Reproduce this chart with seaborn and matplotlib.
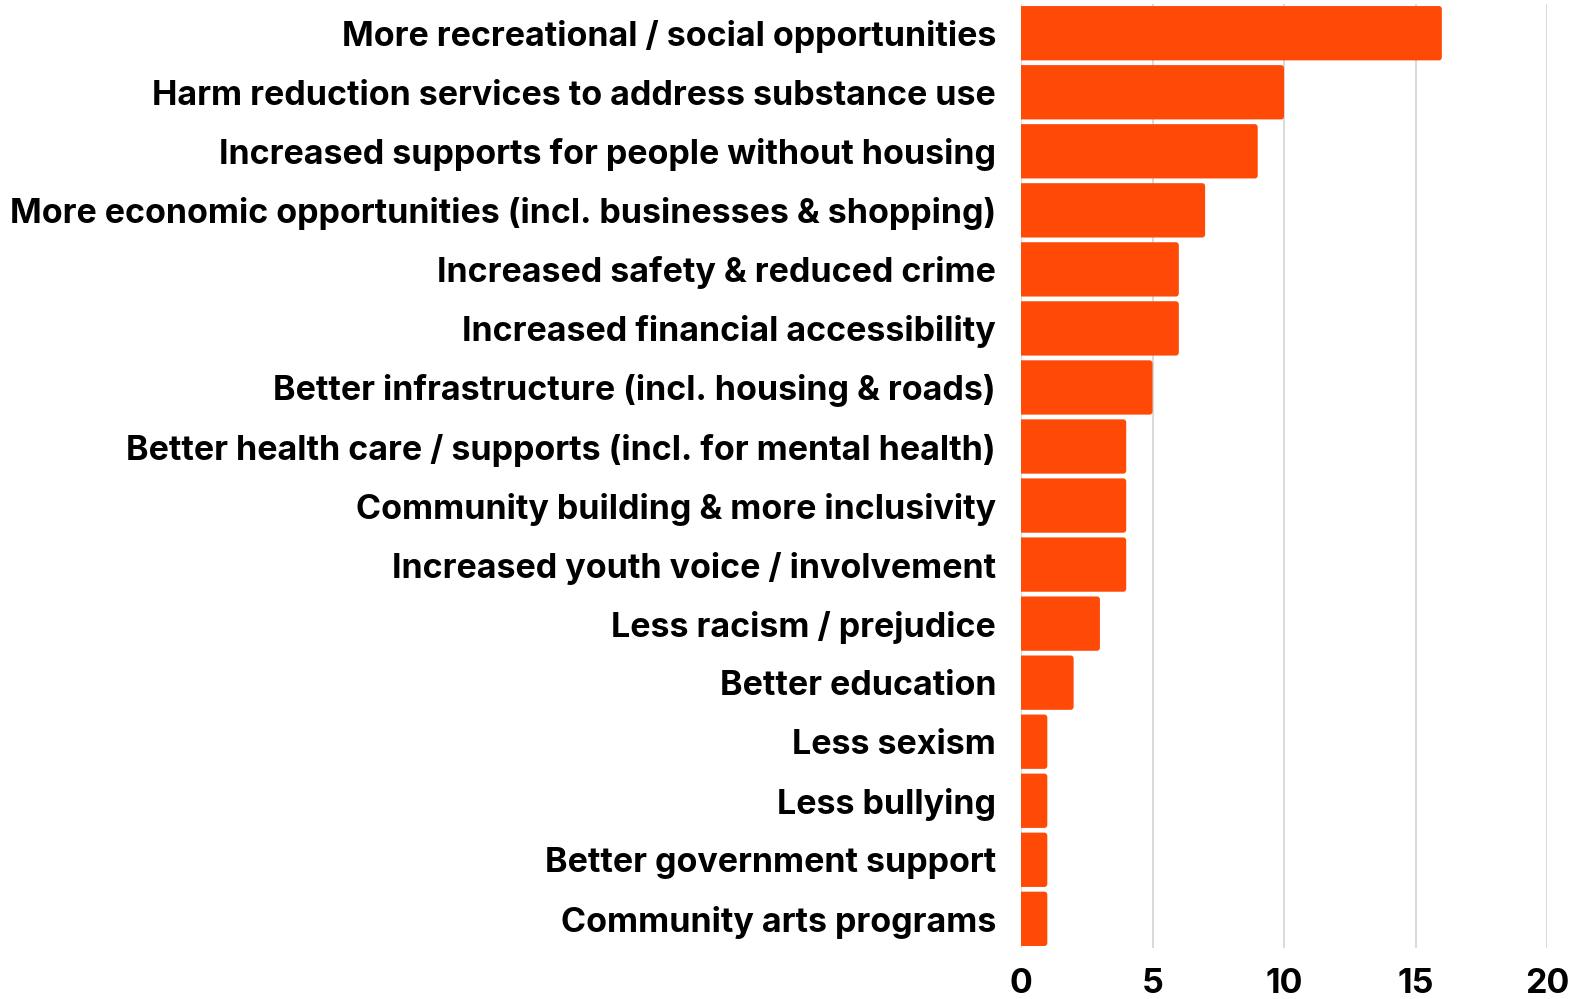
import matplotlib
matplotlib.use("Agg")
import matplotlib.pyplot as plt
from matplotlib.patches import FancyBboxPatch
import seaborn as sns
import pandas as pd

categories = [
    "More recreational / social opportunities",
    "Harm reduction services to address substance use",
    "Increased supports for people without housing",
    "More economic opportunities (incl. businesses & shopping)",
    "Increased safety & reduced crime",
    "Increased financial accessibility",
    "Better infrastructure (incl. housing & roads)",
    "Better health care / supports (incl. for mental health)",
    "Community building & more inclusivity",
    "Increased youth voice / involvement",
    "Less racism / prejudice",
    "Better education",
    "Less sexism",
    "Less bullying",
    "Better government support",
    "Community arts programs",
]
counts = [16, 10, 9, 7, 6, 6, 5, 4, 4, 4, 3, 2, 1, 1, 1, 1]
x_ticks = [0, 5, 10, 15, 20]
bar_color = "#FF4A07"

df = pd.DataFrame({"category": categories, "count": counts})

sns.set_theme(style="white")
plt.rcParams["font.family"] = ["Inter", "DejaVu Sans"]

fig = plt.figure(figsize=(15.82, 9.99), dpi=100)
ax = fig.add_axes([0.6454, 0.0507, 0.9779 - 0.6454, 0.9963 - 0.0507])

sns.barplot(data=df, x="count", y="category", orient="h", color=bar_color,
            saturation=1, width=0.92, ax=ax, zorder=3)

ax.set_xlim(0, 20)
ax.set_ylim(len(categories) - 0.5, -0.5)

# give the bar ends slightly rounded corners (left side is clipped at zero)
r = 0.12
for bar in list(ax.patches):
    x0, y0 = bar.get_x(), bar.get_y()
    w, h = bar.get_width(), bar.get_height()
    rounded = FancyBboxPatch((x0 - r, y0), w + r, h,
                             boxstyle=f"round,pad=0,rounding_size={r}",
                             mutation_aspect=0.45, facecolor=bar_color,
                             edgecolor="none", zorder=3)
    bar.remove()
    ax.add_patch(rounded)

ax.set_xticks(x_ticks)
ax.set_xticklabels([str(t) for t in x_ticks])
ax.xaxis.grid(True, color="#D3D3D3", linewidth=1.2, zorder=0)
ax.yaxis.grid(False)
ax.set_axisbelow(True)
for s in ax.spines.values():
    s.set_visible(False)
ax.set_xlabel("")
ax.set_ylabel("")
ax.tick_params(axis="y", length=0, pad=18, labelsize=24.5, labelcolor="black")
ax.tick_params(axis="x", length=0, pad=14, labelsize=24.5, labelcolor="black")
for lab in ax.get_yticklabels() + ax.get_xticklabels():
    lab.set_fontweight("bold")

fig.savefig("out.png", dpi=100, facecolor="white")
